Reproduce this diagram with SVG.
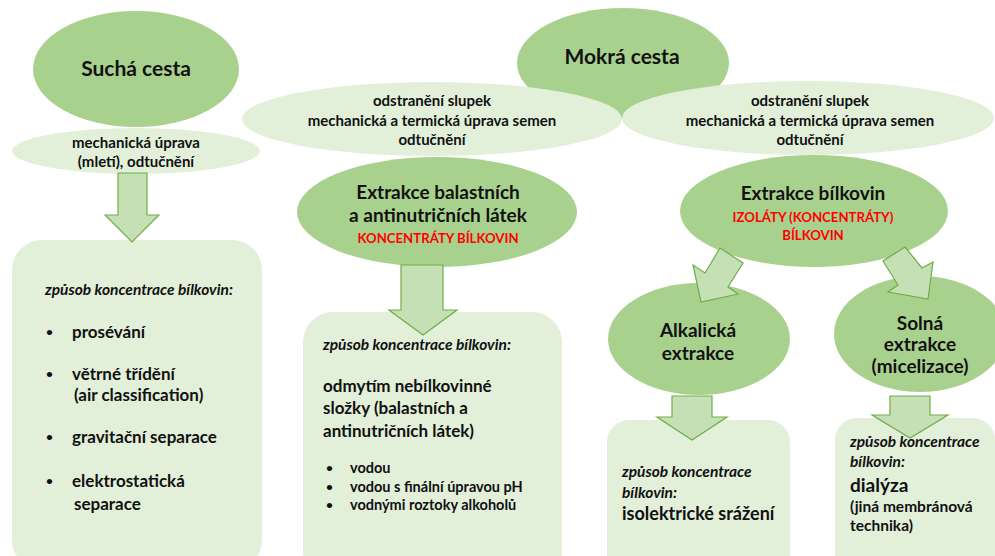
<svg xmlns="http://www.w3.org/2000/svg" width="995" height="556" viewBox="0 0 995 556">
<style>
.big{fill:#a9d18e}
.lite{fill:#e2f0d9}
.box{fill:#e2efd9}
.arr{fill:#c5e0b4;stroke:#70ad47;stroke-width:1.2;stroke-linejoin:miter}
text{font-family:Lato,"Open Sans","Liberation Sans",sans-serif;font-weight:bold;fill:#111}
.c{text-anchor:middle}
.t21{font-size:21px}
.t19{font-size:19px}
.t17{font-size:17px}
.t15{font-size:15px}
.red{fill:#ff0000;font-size:13.2px}
.it{font-style:italic;font-size:15.5px}
.b{font-size:12px}
</style>
<rect width="995" height="556" fill="#ffffff"/>
<g id="mokra-cesta"><ellipse class="big" cx="623" cy="63" rx="106" ry="55"/><text class="c t21" x="622" y="64">Mokrá cesta</text></g>
<g id="sucha-cesta"><ellipse class="big" cx="136" cy="69" rx="103" ry="58"/><text class="c t21" x="136" y="76">Suchá cesta</text></g>
<g id="mech-uprava"><ellipse class="lite" cx="136" cy="151" rx="124" ry="23"/><text class="c t15" x="136" y="148">mechanická úprava</text><text class="c t15" x="136" y="167">(mletí), odtučnění</text></g>
<g id="slupky-1"><ellipse class="lite" cx="432" cy="119" rx="190" ry="37"/><text class="c t15" x="432" y="106">odstranění slupek</text><text class="c t15" x="432" y="126">mechanická a termická úprava semen</text><text class="c t15" x="432" y="145">odtučnění</text></g>
<g id="slupky-2"><ellipse class="lite" cx="808" cy="118" rx="186" ry="37"/><text class="c t15" x="810" y="106">odstranění slupek</text><text class="c t15" x="810" y="126">mechanická a termická úprava semen</text><text class="c t15" x="810" y="145">odtučnění</text></g>
<g id="extrakce-balast"><ellipse class="big" cx="437" cy="212" rx="140" ry="55"/><text class="c t19" x="438" y="199">Extrakce balastních</text><text class="c t19" x="438" y="222">a antinutričních látek</text><text class="c red" x="438" y="243">KONCENTRÁTY BÍLKOVIN</text></g>
<g id="extrakce-bilkovin"><ellipse class="big" cx="814" cy="211" rx="134" ry="56"/><text class="c t19" x="813" y="200">Extrakce bílkovin</text><text class="c red" x="813" y="222">IZOLÁTY (KONCENTRÁTY)</text><text class="c red" x="813" y="240">BÍLKOVIN</text></g>
<g id="alkalicka"><ellipse class="big" cx="699" cy="339" rx="91" ry="56"/><text class="c t19" x="698" y="337">Alkalická</text><text class="c t19" x="698" y="360">extrakce</text></g>
<g id="solna"><ellipse class="big" cx="920" cy="334" rx="86" ry="58"/><text class="c t19" x="920" y="330">Solná</text><text class="c t19" x="920" y="351">extrakce</text><text class="c t19" x="920" y="373">(micelizace)</text></g>
<g id="box-sucha"><rect class="box" x="12" y="240" width="250" height="330" rx="30"/>
<text class="it" x="45" y="295">způsob koncentrace bílkovin:</text>
<text class="b" x="46" y="336">•</text><text class="t17" x="72" y="338">prosévání</text>
<text class="b" x="46" y="378">•</text><text class="t17" x="72" y="380">větrné třídění</text><text class="t17" x="74" y="401">(air classification)</text>
<text class="b" x="46" y="441">•</text><text class="t17" x="72" y="443">gravitační separace</text>
<text class="b" x="46" y="485">•</text><text class="t17" x="72" y="487">elektrostatická</text><text class="t17" x="74" y="510">separace</text></g>
<g id="box-balast"><rect class="box" x="303" y="312" width="259" height="270" rx="30"/>
<text class="it" x="323" y="350">způsob koncentrace bílkovin:</text>
<text class="t17" x="323" y="392">odmytím nebílkovinné</text><text class="t17" x="323" y="414">složky (balastních a</text><text class="t17" x="323" y="437">antinutričních látek)</text>
<text class="b" x="326" y="472">•</text><text style="font-size:14.5px" x="350" y="473">vodou</text>
<text class="b" x="326" y="491">•</text><text style="font-size:14.5px" x="350" y="492">vodou s finální úpravou pH</text>
<text class="b" x="326" y="509">•</text><text style="font-size:14.5px" x="350" y="510">vodnými roztoky alkoholů</text></g>
<g id="box-alkalicka"><rect class="box" x="607" y="420" width="183" height="170" rx="22"/>
<text class="it" x="622" y="477">způsob koncentrace</text><text class="it" x="622" y="498">bílkovin:</text><text style="font-size:18px" x="622" y="520">isolektrické srážení</text></g>
<g id="box-solna"><rect class="box" x="835" y="418" width="160" height="170" rx="22"/>
<text class="it" x="850" y="447">způsob koncentrace</text><text class="it" x="850" y="467">bílkovin:</text><text style="font-size:19px" x="850" y="492">dialýza</text><text style="font-size:15.5px" x="850" y="512">(jiná membránová</text><text style="font-size:15.5px" x="850" y="531">technika)</text></g>
<g id="connectors">
<polygon class="arr" points="118,173 147,173 147,215 159,215 132,242 105,215 118,215"/>
<polygon class="arr" points="401,265 443,265 443,310 457,310 423,335 389,310 401,310"/>
<polygon class="arr" points="720,248 743,263 728,287 738,294 701,302 693,265 705,273"/>
<polygon class="arr" points="905,247 922,268 933,262 928,299 888,292 898,285 883,261"/>
<polygon class="arr" points="672,396 712,396 712,417 727,417 692,440 657,417 672,417"/>
<polygon class="arr" points="890,396 930,396 930,415 948,415 910,438 872,415 890,415"/>
</g>
</svg>
